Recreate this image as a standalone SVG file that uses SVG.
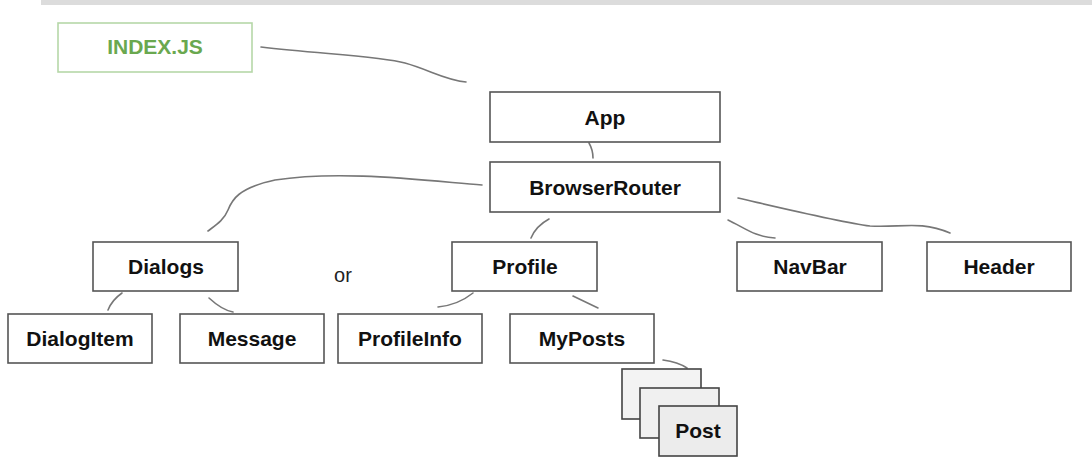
<svg xmlns="http://www.w3.org/2000/svg" width="1092" height="474" viewBox="0 0 1092 474">
<style>
.box{fill:#fff;stroke:#555;stroke-width:1.6}
.lbl{font-family:"Liberation Sans",Arial,sans-serif;font-weight:bold;font-size:21px;fill:#111;text-anchor:middle}
.con{fill:none;stroke:#777;stroke-width:1.6;stroke-linecap:round}
.stk{stroke:#444;stroke-width:1.6}
</style>
<rect x="41" y="0" width="1051" height="5" fill="#dcdcdc"/>
<g id="connectors">
<path class="con" d="M261,47 C320,54 380,56 405,63 C430,70 445,80 466,82"/>
<path class="con" d="M589,143 Q593,150 593,158"/>
<path class="con" d="M482,185 C420,180 340,170 275,180 C238,188 232,200 228,210 C224,220 216,225 208,231"/>
<path class="con" d="M549,219 Q536,226 531,238"/>
<path class="con" d="M728,220 C745,228 755,237 775,238"/>
<path class="con" d="M738,198 C790,210 840,222 870,226 C900,228 920,220 950,233"/>
<path class="con" d="M122,293 Q112,300 108,310"/>
<path class="con" d="M209,298 Q222,310 233,312"/>
<path class="con" d="M473,293 Q458,305 438,307"/>
<path class="con" d="M573,296 L598,308"/>
<path class="con" d="M663,360 Q678,362 687,368"/>
</g>
<g id="index">
<rect x="58" y="23" width="194" height="49" fill="#fff" stroke="#b6d7a8" stroke-width="1.6"/>
<text x="155" y="54" class="lbl" style="fill:#6aa84f">INDEX.JS</text>
</g>
<g id="app"><rect class="box" x="490" y="92" width="230" height="50"/><text class="lbl" x="605" y="125">App</text></g>
<g id="browserrouter"><rect class="box" x="490" y="162" width="230" height="50"/><text class="lbl" x="605" y="195">BrowserRouter</text></g>
<g id="dialogs"><rect class="box" x="93" y="242" width="145" height="49"/><text class="lbl" x="166" y="274">Dialogs</text></g>
<g id="or"><text x="343" y="282" style="font-family:'Liberation Sans',Arial,sans-serif;font-size:20px;fill:#222;text-anchor:middle">or</text></g>
<g id="profile"><rect class="box" x="452" y="242" width="145" height="49"/><text class="lbl" x="525" y="274">Profile</text></g>
<g id="navbar"><rect class="box" x="737" y="242" width="145" height="49"/><text class="lbl" x="810" y="274">NavBar</text></g>
<g id="header"><rect class="box" x="927" y="242" width="144" height="49"/><text class="lbl" x="999" y="274">Header</text></g>
<g id="dialogitem"><rect class="box" x="8" y="314" width="144" height="49"/><text class="lbl" x="80" y="346">DialogItem</text></g>
<g id="message"><rect class="box" x="180" y="314" width="144" height="49"/><text class="lbl" x="252" y="346">Message</text></g>
<g id="profileinfo"><rect class="box" x="338" y="314" width="144" height="49"/><text class="lbl" x="410" y="346">ProfileInfo</text></g>
<g id="myposts"><rect class="box" x="510" y="314" width="144" height="49"/><text class="lbl" x="582" y="346">MyPosts</text></g>
<g id="post">
<rect class="stk" x="622" y="369" width="79" height="50" fill="#f3f3f3"/>
<rect class="stk" x="640" y="388" width="79" height="50" fill="#f0f0f0"/>
<rect class="stk" x="659" y="406" width="78" height="50" fill="#ececec"/>
<text class="lbl" x="698" y="438">Post</text>
</g>
</svg>
